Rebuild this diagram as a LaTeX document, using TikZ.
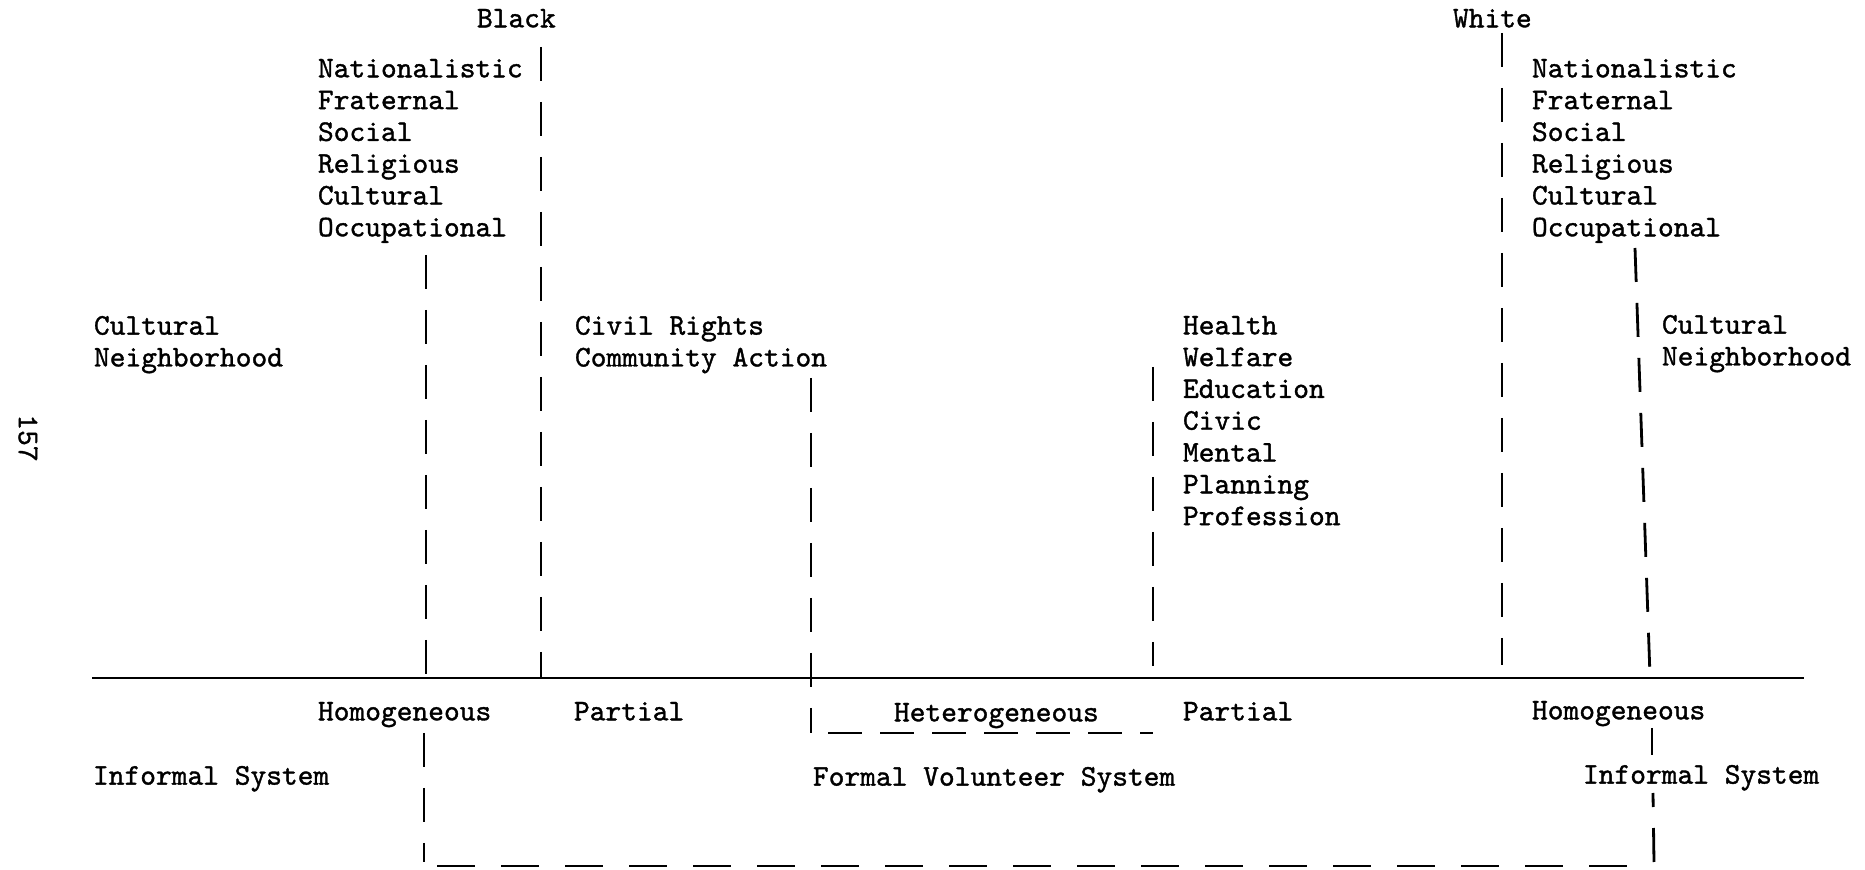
\documentclass[tikz,border=0pt]{standalone}
\usepackage{fontspec}
\newfontfamily\twfont{lmmono10-regular.otf}[FakeBold=1.2]
\begin{document}
\begin{tikzpicture}[x=0.5pt,y=-0.5pt,
  lbl/.style={inner sep=0pt,outer sep=0pt,anchor=north west,align=left,
    font=\twfont\fontsize{15}{15.9}\selectfont},
  solidln/.style={line width=1.4pt},
  vdash/.style={line width=1.4pt,dash pattern=on 17pt off 10.5pt},
  hdash/.style={line width=1.4pt,dash pattern=on 19pt off 13pt},
  sdash/.style={line width=1.4pt,dash pattern=on 17pt off 9pt}]
\useasboundingbox (0,0) rectangle (1865,870);
% texts above the line
\node[lbl] (black) at (477,9) {Black};
\node[lbl] (blist) at (318,59) {Nationalistic\\Fraternal\\Social\\Religious\\Cultural\\Occupational};
\node[lbl] (cultl) at (94,316) {Cultural\\Neighborhood};
\node[lbl] (civil) at (575,316) {Civil Rights\\Community Action};
\node[lbl] (health) at (1183,316) {Health\\Welfare\\Education\\Civic\\Mental\\Planning\\Profession};
\node[lbl] (white) at (1453,9) {White};
\node[lbl] (wlist) at (1532,59) {Nationalistic\\Fraternal\\Social\\Religious\\Cultural\\Occupational};
\node[lbl] (cultr) at (1662,315) {Cultural\\Neighborhood};
\node[lbl,anchor=center,rotate=-90] (page) at (28,438) {157};
% texts below the line
\node[lbl] (homl) at (318,702) {Homogeneous};
\node[lbl] (partl) at (574,702) {Partial};
\node[lbl] (het) at (894,703) {Heterogeneous};
\node[lbl] (partr) at (1183,702) {Partial};
\node[lbl] (homr) at (1532,701) {Homogeneous};
\node[lbl] (infl) at (93,766) {Informal System};
\node[lbl] (formal) at (813,767) {Formal Volunteer System};
\node[lbl] (infr) at (1583,765) {Informal System};
% coordinates
\coordinate (mainL) at (92,678);
\coordinate (mainR) at (1804,678);
\coordinate (bl1t) at (426,255);  \coordinate (bl1b) at (426,678);
\coordinate (bl2t) at (541,47);   \coordinate (bl2b) at (541,678);
\coordinate (cvt) at (811,378);   \coordinate (cvb) at (811,733);
\coordinate (hetl) at (828,733);  \coordinate (hetr) at (1153,733);
\coordinate (hlt) at (1153,367);  \coordinate (hlb) at (1153,666);
\coordinate (wl1t) at (1502,33);  \coordinate (wl1b) at (1502,665);
\coordinate (wl2t) at (1635,248); \coordinate (wl2b) at (1650,676);
\coordinate (hlt2) at (424,733);  \coordinate (hlb2) at (424,862);
\coordinate (botl) at (437,866);  \coordinate (botr) at (1648,866);
\coordinate (rvb) at (1654,862);  \coordinate (rvt) at (1653,793);
\coordinate (rut) at (1652,728);  \coordinate (rub) at (1652,755);
% main line
\draw[solidln] (mainL) -- (mainR);
% verticals above
\draw[vdash] (bl1t) -- (bl1b);
\draw[vdash] (bl2t) -- (bl2b);
\draw[vdash] (cvt) -- (cvb);
\draw[sdash] (hetl) -- (hetr);
\draw[vdash] (hlt) -- (hlb);
\draw[vdash] (wl1t) -- (wl1b);
\draw[vdash] (wl2t) -- (wl2b);
% bottom loop
\draw[vdash] (hlt2) -- (hlb2);
\draw[hdash] (botl) -- (botr);
\draw[vdash] (rvb) -- (rvt);
\draw[vdash] (rut) -- (rub);
\end{tikzpicture}
\end{document}
